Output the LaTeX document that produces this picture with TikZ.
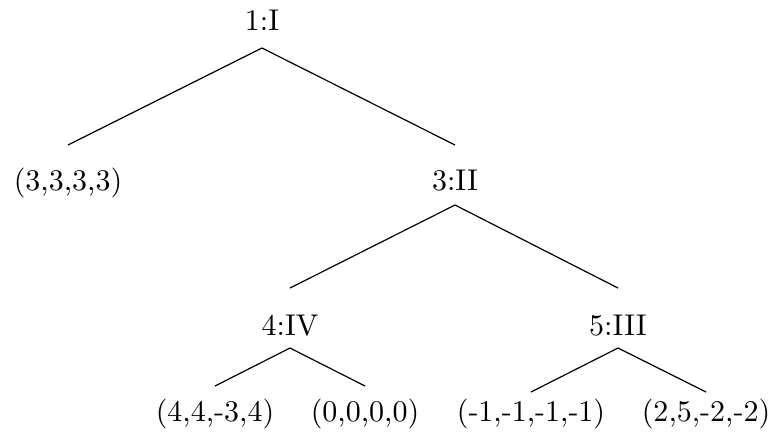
\documentclass[tikz,border=0pt]{standalone}
\usetikzlibrary{calc}

\begin{document}
\begin{tikzpicture}[
    x=0.3333pt, y=-0.3333pt,
    every node/.style={inner sep=0pt, anchor=base},
    branch/.style={line width=0.4pt}
  ]
    \useasboundingbox (0,0) rectangle (774,446);

    %------------------ Decision nodes ------------------%
    \node (n1) at (262,30) {1:I};
    \node (n3) at (455,190) {3:II};
    \node (n4) at (290,335) {4:IV};
    \node (n5) at (618,335) {5:III};

    %------------------ Payoffs ------------------%
    \node (p1) at (68,190) {(3,3,3,3)};
    \node (p2) at (215,421) {(4,4,-3,4)};
    \node (p3) at (365,421) {(0,0,0,0)};
    \node (p4) at (531,421) {(-1,-1,-1,-1)};
    \node (p5) at (706,421) {(2,5,-2,-2)};

    %------------------ Branch tops ------------------%
    \coordinate (t1) at ($(n1.base)+(0,18)$);
    \coordinate (t3) at ($(n3.base)+(0,15)$);
    \coordinate (t4) at ($(n4.base)+(0,13)$);
    \coordinate (t5) at ($(n5.base)+(0,13)$);

    % Branches
    \draw[branch] (t1) -- ($(p1.base)+(0,-45)$);
    \draw[branch] (t1) -- ($(n3.base)+(0,-45)$);
    \draw[branch] (t3) -- ($(n4.base)+(0,-47)$);
    \draw[branch] (t3) -- ($(n5.base)+(0,-47)$);
    \draw[branch] (t4) -- ($(p2.base)+(0,-35)$);
    \draw[branch] (t4) -- ($(p3.base)+(0,-35)$);
    \draw[branch] (t5) -- ($(p4.base)+(0,-29)$);
    \draw[branch] (t5) -- ($(p5.base)+(0,-29)$);

  \end{tikzpicture}
\end{document}
